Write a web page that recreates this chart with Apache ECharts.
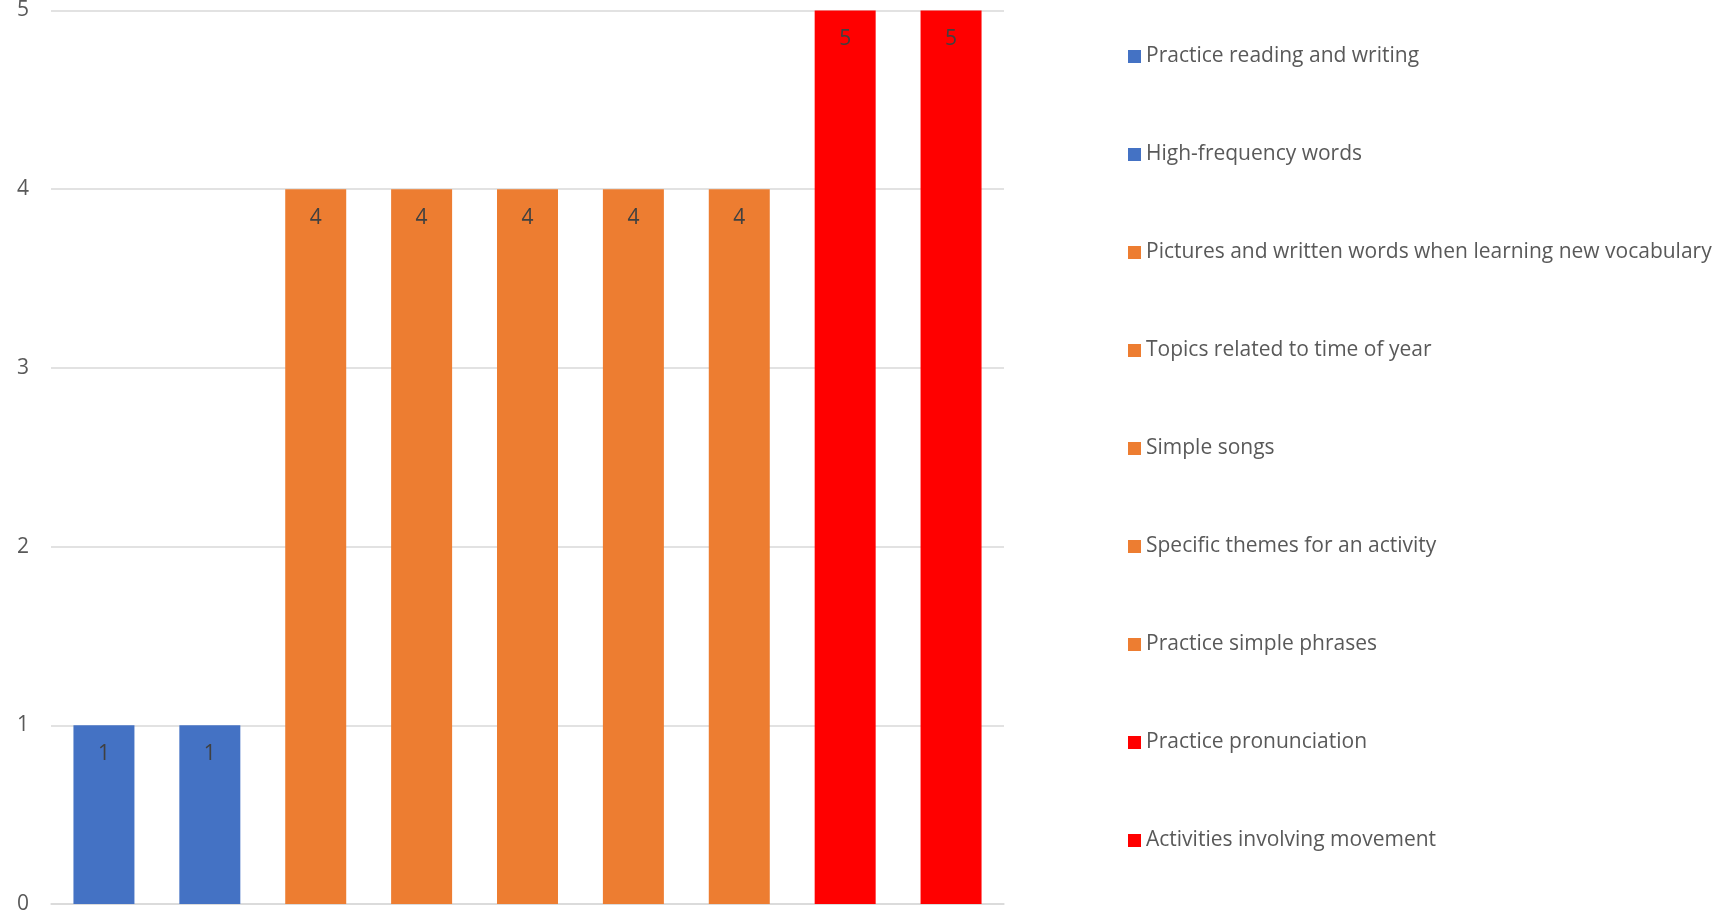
<!DOCTYPE html>
<html>
<head>
<meta charset="utf-8">
<script src="https://cdn.jsdelivr.net/npm/echarts@6/dist/echarts.min.js"></script>
<style>
    html, body { margin: 0; padding: 0; background: #fff; }
    #main { width: 1717px; height: 918px; }
</style>
</head>
<body>
<div id="main"></div>
<script>
// categories and values
var categories = [
    'Practice reading and writing',
    'High-frequency words',
    'Pictures and written words when learning new vocabulary',
    'Topics related to time of year',
    'Simple songs',
    'Specific themes for an activity',
    'Practice simple phrases',
    'Practice pronunciation',
    'Activities involving movement'
];
var values = [1, 1, 4, 4, 4, 4, 4, 5, 5];
var colors = ['#4472C4', '#4472C4', '#ED7D31', '#ED7D31', '#ED7D31', '#ED7D31', '#ED7D31', '#FF0000', '#FF0000'];
var yTicks = [0, 1, 2, 3, 4, 5];

var chart = echarts.init(document.getElementById('main'));

// one series per category so each shows up in the legend
var series = categories.map(function(name, i) {
    var data = values.map(function(v, j) {
        return j === i ? v : '-';
    });
    return {
        name: name,
        type: 'bar',
        stack: 'all',
        barWidth: '57.6%',
        data: data,
        itemStyle: { color: colors[i] },
        label: {
            show: true,
            position: 'insideTop',
            distance: 18,
            color: '#404040',
            fontSize: 21,
            fontFamily: 'Open Sans'
        },
        emphasis: { disabled: true }
    };
});

var option = {
    animation: false,
    grid: {
        left: 51,
        right: 1717 - 1004,
        top: 9,
        bottom: 14
    },
    legend: {
        orient: 'vertical',
        left: 1123,
        top: 41,
        itemWidth: 13,
        itemHeight: 13,
        itemGap: 77,
        icon: 'rect',
        textStyle: {
            color: '#595959',
            fontSize: 21,
            fontFamily: 'Open Sans',
            padding: [0, 0, 0, 0]
        },
        data: categories
    },
    xAxis: {
        type: 'category',
        data: categories,
        axisLine: { lineStyle: { color: '#d9d9d9', width: 1.5 } },
        axisTick: { show: false },
        axisLabel: { show: false }
    },
    yAxis: {
        type: 'value',
        min: yTicks[0],
        max: yTicks[yTicks.length - 1],
        interval: 1,
        axisLine: { show: false },
        axisTick: { show: false },
        axisLabel: {
            color: '#595959',
            fontSize: 21,
            fontFamily: 'Open Sans',
            margin: 22
        },
        splitLine: { lineStyle: { color: '#d9d9d9', width: 1.5 } }
    },
    series: series
};

chart.setOption(option);
</script>
</body>
</html>
